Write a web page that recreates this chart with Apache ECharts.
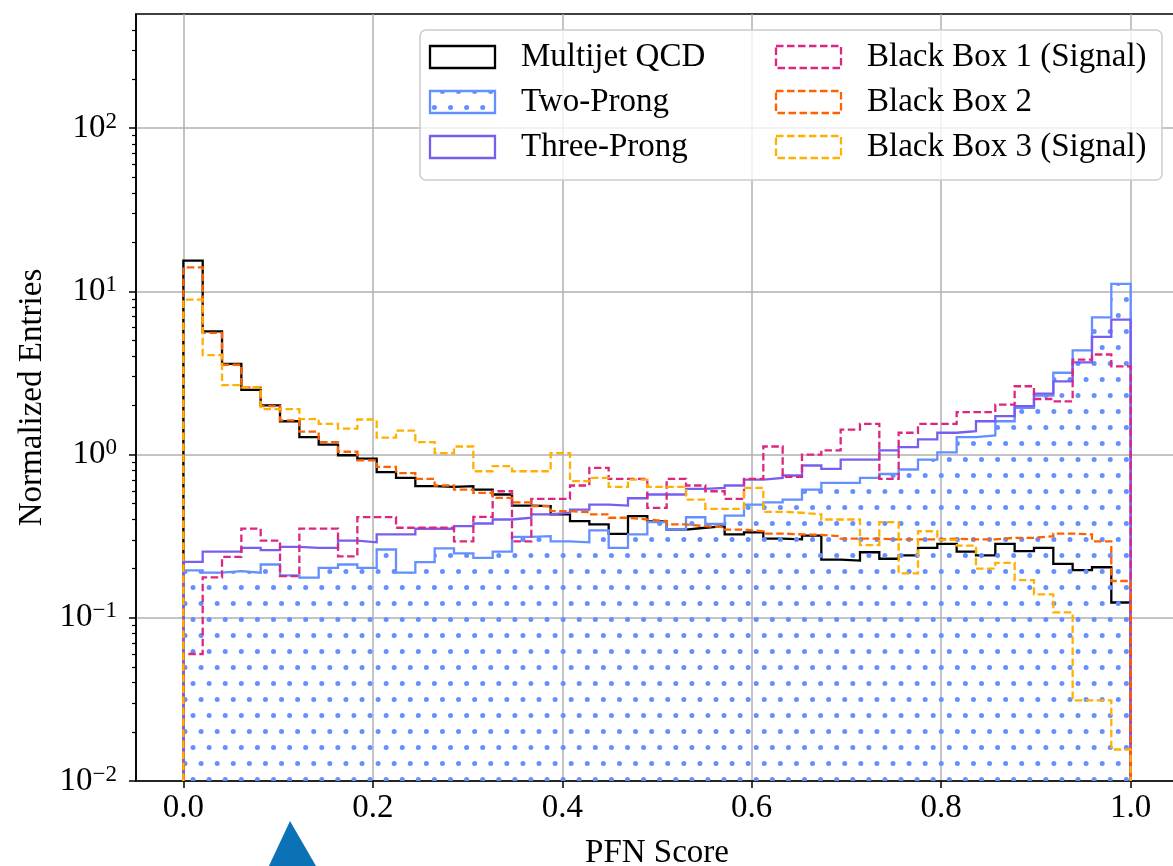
<!DOCTYPE html>
<html>
<head>
<meta charset="utf-8">
<script src="https://cdn.jsdelivr.net/npm/echarts@6/dist/echarts.min.js"></script>
<style>
  html, body { margin: 0; padding: 0; background: #ffffff; }
  #chart { width: 1173px; height: 866px; }
</style>
</head>
<body>
<div id="chart"></div>
<script>
// 49 equal-width bins of the PFN score on [0, 1]
const binCount = 49;

const multijetQCD = [15.4, 5.69, 3.59, 2.49, 2.00, 1.60, 1.28, 1.15, 0.99, 0.945,
  0.78, 0.72, 0.64, 0.634, 0.64, 0.61, 0.569, 0.487, 0.483, 0.43,
  0.391, 0.373, 0.327, 0.419, 0.39, 0.347, 0.356, 0.364, 0.324, 0.334,
  0.305, 0.302, 0.319, 0.227, 0.224, 0.252, 0.23, 0.241, 0.268, 0.284,
  0.254, 0.241, 0.284, 0.256, 0.268, 0.214, 0.196, 0.204, 0.124];

const twoProng = [0.195, 0.189, 0.193, 0.189, 0.212, 0.182, 0.176, 0.202, 0.212, 0.202,
  0.262, 0.189, 0.219, 0.266, 0.248, 0.233, 0.254, 0.313, 0.316, 0.294,
  0.29, 0.343, 0.268, 0.324, 0.385, 0.347, 0.413, 0.376, 0.423, 0.494,
  0.51, 0.53, 0.61, 0.671, 0.671, 0.72, 0.76, 0.81, 0.932, 1.03,
  1.28, 1.31, 1.60, 1.93, 2.30, 3.17, 4.35, 6.93, 11.1];

const threeProng = [0.22, 0.254, 0.254, 0.268, 0.26, 0.272, 0.268, 0.268, 0.297, 0.29,
  0.324, 0.324, 0.351, 0.351, 0.364, 0.378, 0.40, 0.41, 0.43, 0.44,
  0.46, 0.494, 0.487, 0.54, 0.569, 0.569, 0.616, 0.625, 0.646, 0.703,
  0.72, 0.744, 0.857, 0.817, 0.932, 0.932, 1.06, 1.11, 1.24, 1.36,
  1.39, 1.60, 1.72, 1.98, 2.36, 2.81, 3.67, 5.26, 6.71];

const blackBox1 = [0.06, 0.177, 0.236, 0.352, 0.297, 0.18, 0.352, 0.352, 0.238, 0.414,
  0.414, 0.356, 0.356, 0.356, 0.294, 0.415, 0.596, 0.294, 0.535, 0.535,
  0.646, 0.829, 0.71, 0.71, 0.471, 0.71, 0.646, 0.596, 0.535, 0.71,
  1.12, 0.73, 1.0, 1.06, 1.42, 1.54, 0.71, 1.36, 1.54, 1.54,
  1.82, 1.82, 2.02, 2.62, 2.19, 2.12, 3.82, 4.10, 3.47];

const blackBox2 = [14.0, 5.56, 3.55, 2.58, 1.98, 1.62, 1.38, 1.19, 1.04, 0.92,
  0.84, 0.77, 0.71, 0.646, 0.61, 0.582, 0.543, 0.51, 0.483, 0.45,
  0.443, 0.43, 0.41, 0.40, 0.391, 0.373, 0.364, 0.359, 0.347, 0.339,
  0.328, 0.324, 0.322, 0.316, 0.305, 0.305, 0.302, 0.302, 0.302, 0.305,
  0.302, 0.302, 0.309, 0.309, 0.316, 0.328, 0.324, 0.294, 0.168];

const blackBox3 = [8.9, 4.06, 2.66, 2.58, 1.90, 1.90, 1.65, 1.54, 1.44, 1.64,
  1.27, 1.40, 1.19, 1.02, 1.12, 0.79, 0.85, 0.79, 0.79, 1.02,
  0.687, 0.72, 0.634, 0.703, 0.634, 0.634, 0.53, 0.465, 0.465, 0.625,
  0.446, 0.44, 0.43, 0.40, 0.40, 0.279, 0.385, 0.187, 0.339, 0.30,
  0.277, 0.20, 0.217, 0.17, 0.139, 0.108, 0.0312, 0.0312, 0.0156];

const seriesNames = ['Multijet QCD', 'Two-Prong', 'Three-Prong',
  'Black Box 1 (Signal)', 'Black Box 2', 'Black Box 3 (Signal)'];
const xTickValues = [0.0, 0.2, 0.4, 0.6, 0.8, 1.0];
const yTickExponents = [-2, -1, 0, 1, 2];
const xRange = [-0.05, 1.05];
const yRange = [0.01, 500];

const FONT = '"Liberation Serif", "DejaVu Serif", serif';
const COLORS = ['#000000', '#648FFF', '#785EF0', '#DC267F', '#FE6100', '#FFB000'];
const DASHED = [false, false, false, true, true, true];
const DASH = [7.5, 3.5];
const LINE_W = 2.3;

const log10 = v => Math.log10(v);
const yMin = log10(yRange[0]);
const yMax = log10(yRange[1]);

// Histogram outline: rise from the floor at 0, one point per bin edge, drop back at 1
function stepOutline(values) {
  const pts = [[0, yMin]];
  values.forEach((v, i) => pts.push([i / binCount, log10(v)]));
  pts.push([1, log10(values[values.length - 1])]);
  pts.push([1, yMin]);
  return pts;
}

// Minor ticks 2..9 in every decade of the log axis
const minorTicks = [];
for (let e = -2; e <= 2; e++) {
  for (let m = 2; m <= 9; m++) {
    const v = Math.log10(m) + e;
    if (v < yMax) minorTicks.push(v);
  }
}

// Staggered dot hatch used for the Two-Prong fill
function makeDotPattern() {
  const W = 177, H = 32, step = W / 11, r = 2.5;
  const c = document.createElement('canvas');
  c.width = W; c.height = H;
  const g = c.getContext('2d');
  g.fillStyle = COLORS[1];
  const rows = [{ y: 27.4, x0: 8 }, { y: 11.4, x0: 8 + step / 2 }];
  rows.forEach(row => {
    for (let i = -1; i <= 11; i++) {
      const x = row.x0 + step * i;
      g.beginPath();
      g.arc(x, row.y, r, 0, Math.PI * 2);
      g.fill();
    }
  });
  return c;
}
const dotPattern = makeDotPattern();

const histograms = [multijetQCD, twoProng, threeProng, blackBox1, blackBox2, blackBox3];

const series = histograms.map((vals, i) => {
  const s = {
    name: seriesNames[i],
    type: 'line',
    step: 'end',
    data: stepOutline(vals),
    symbol: 'none',
    showSymbol: false,
    silent: true,
    animation: false,
    z: 2 + i,
    lineStyle: {
      color: COLORS[i],
      width: LINE_W,
      type: DASHED[i] ? DASH : 'solid',
      cap: 'butt',
      join: 'miter'
    }
  };
  if (i === 1) {
    s.areaStyle = { origin: 'start', color: { image: dotPattern, repeat: 'repeat' }, opacity: 1 };
  }
  return s;
});

// Legend drawn as patches with labels, two columns of three
const legendBox = { x: 420, y: 30, w: 742, h: 150 };
const legendCols = [430, 776];
const legendRows = [57, 102, 147];
const patch = { w: 65, h: 22, gap: 26 };

const graphics = [{
  type: 'rect',
  shape: { x: legendBox.x, y: legendBox.y, width: legendBox.w, height: legendBox.h, r: 6 },
  style: { fill: 'rgba(255,255,255,0.8)', stroke: '#cccccc', lineWidth: 1.5 },
  z: 100
}];
seriesNames.forEach((name, i) => {
  const cx = legendCols[Math.floor(i / 3)];
  const cy = legendRows[i % 3];
  graphics.push({
    type: 'rect',
    shape: { x: cx, y: cy - patch.h / 2, width: patch.w, height: patch.h },
    style: {
      fill: i === 1 ? { image: dotPattern, repeat: 'repeat' } : 'none',
      stroke: COLORS[i],
      lineWidth: LINE_W,
      lineDash: DASHED[i] ? DASH : null
    },
    z: 101
  });
  graphics.push({
    type: 'text',
    style: {
      text: name, x: cx + patch.w + patch.gap, y: cy,
      font: '33px ' + FONT, fill: '#000', verticalAlign: 'middle', align: 'left'
    },
    z: 101
  });
});
// pointer marker below the axis
graphics.push({
  type: 'polygon',
  shape: { points: [[290, 821], [268, 868], [316, 866]] },
  style: { fill: '#0a72b5' },
  z: 100
});

const supText = v => (v < 0 ? '\u2212' + (-v) : String(v));

const option = {
  animation: false,
  backgroundColor: '#ffffff',
  grid: {
    left: 136, right: -5, top: 14, bottom: 85,
    outerBoundsMode: 'none',
    containLabel: false,
    show: true, borderColor: '#000', borderWidth: 1.6, backgroundColor: 'transparent'
  },
  xAxis: {
    type: 'value',
    min: xRange[0], max: xRange[1],
    name: 'PFN Score',
    nameLocation: 'middle',
    nameGap: 56,
    nameTextStyle: { fontFamily: FONT, fontSize: 33, color: '#000' },
    axisLine: { show: true, onZero: false, lineStyle: { color: '#000', width: 1.6 } },
    axisTick: { show: true, customValues: xTickValues, length: 7, lineStyle: { color: '#000', width: 1.5 } },
    axisLabel: {
      customValues: xTickValues,
      formatter: v => v.toFixed(1),
      fontFamily: FONT, fontSize: 33, color: '#000', margin: 11
    },
    splitLine: { show: true, lineStyle: { color: '#b0b0b0', width: 1.5 } }
  },
  yAxis: [{
    type: 'value',
    min: yMin, max: yMax,
    name: 'Normalized Entries',
    nameLocation: 'middle',
    nameGap: 84,
    nameTextStyle: { fontFamily: FONT, fontSize: 33, color: '#000' },
    axisLine: { show: true, onZero: false, lineStyle: { color: '#000', width: 1.6 } },
    axisTick: { show: true, customValues: yTickExponents, length: 7, lineStyle: { color: '#000', width: 1.5 } },
    axisLabel: {
      customValues: yTickExponents,
      margin: 19,
      formatter: v => '{b|10}{s|' + supText(Math.round(v)) + '}',
      rich: {
        b: { fontFamily: FONT, fontSize: 33, color: '#000', lineHeight: 36 },
        s: { fontFamily: FONT, fontSize: 23, color: '#000', verticalAlign: 'top', lineHeight: 22 }
      }
    },
    splitLine: { show: true, lineStyle: { color: '#b0b0b0', width: 1.5 } }
  }, {
    type: 'value',
    position: 'left',
    min: yMin, max: yMax,
    axisLine: { show: false, onZero: false },
    axisTick: { show: true, customValues: minorTicks, length: 4, lineStyle: { color: '#000', width: 1.2 } },
    axisLabel: { show: false },
    splitLine: { show: false }
  }],
  series: series,
  graphic: graphics
};

const chart = echarts.init(document.getElementById('chart'), null, { renderer: 'canvas' });
chart.setOption(option);
</script>
</body>
</html>
